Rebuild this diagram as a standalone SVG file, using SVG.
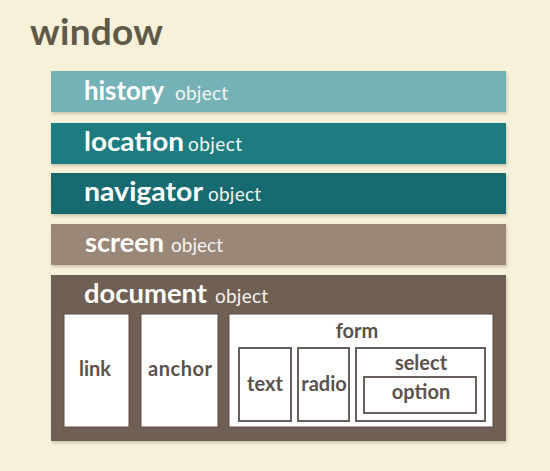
<svg xmlns="http://www.w3.org/2000/svg" width="550" height="471" viewBox="0 0 550 471">
<defs>
<filter id="sh" x="-5%" y="-20%" width="110%" height="150%">
<feDropShadow dx="1" dy="2" stdDeviation="1.5" flood-color="#6b5a40" flood-opacity="0.3"/>
</filter>
</defs>
<style>
.b{font-family:Lato,"Open Sans",sans-serif;font-weight:700;font-size:27px;fill:#ffffff}
.o{font-family:Lato,"Open Sans",sans-serif;font-weight:400;font-size:19px;fill:#f4f4f0}
.t{font-family:Lato,"Open Sans",sans-serif;font-weight:700;font-size:20px;fill:#5c524d;text-anchor:middle}
.wb{fill:#ffffff;stroke:#5a4c44;stroke-width:1}
.ib{fill:#ffffff;stroke:#6a605b;stroke-width:2}
</style>
<rect x="0" y="0" width="550" height="471" fill="#f7f1d9"/>
<text x="30" y="45" font-family="Lato,'Open Sans',sans-serif" font-weight="700" font-size="37" fill="#5f5a48" textLength="133">window</text>

<g id="history">
<rect x="51" y="71" width="455" height="41" fill="#74b2b8" filter="url(#sh)"/>
<text class="b" x="84" y="100" textLength="80" lengthAdjust="spacingAndGlyphs">history</text>
<text class="o" x="175" y="100" textLength="53">object</text>
</g>
<g id="location">
<rect x="51" y="123" width="455" height="41" fill="#1a7b80" filter="url(#sh)"/>
<text class="b" x="84" y="151" textLength="100" lengthAdjust="spacingAndGlyphs">location</text>
<text class="o" x="188" y="151" textLength="54">object</text>
</g>
<g id="navigator">
<rect x="51" y="173" width="455" height="41" fill="#146b70" filter="url(#sh)"/>
<text class="b" x="84" y="201" textLength="119" lengthAdjust="spacingAndGlyphs">navigator</text>
<text class="o" x="208" y="201" textLength="53">object</text>
</g>
<g id="screen">
<rect x="51" y="224" width="455" height="41" fill="#9b8778" filter="url(#sh)"/>
<text class="b" x="85" y="252" textLength="79" lengthAdjust="spacingAndGlyphs">screen</text>
<text class="o" x="171" y="252" textLength="52">object</text>
</g>
<g id="document">
<rect x="51" y="275" width="455" height="166" fill="#6f5e53" filter="url(#sh)"/>
<text class="b" x="84" y="303" textLength="123" lengthAdjust="spacingAndGlyphs">document</text>
<text class="o" x="215" y="303" textLength="53">object</text>
</g>
<g id="link">
<rect class="wb" x="64" y="314" width="65" height="113"/>
<text class="t" x="95" y="376">link</text>
</g>
<g id="anchor">
<rect class="wb" x="141" y="314" width="77" height="113"/>
<text class="t" x="180" y="376" textLength="64">anchor</text>
</g>
<g id="form">
<rect class="wb" x="229" y="314" width="264" height="113"/>
<text class="t" x="357" y="338">form</text>
</g>
<g id="text">
<rect class="ib" x="239" y="348" width="52" height="73"/>
<text class="t" x="265" y="391">text</text>
</g>
<g id="radio">
<rect class="ib" x="298" y="348" width="51" height="73"/>
<text class="t" x="324" y="391">radio</text>
</g>
<g id="select">
<rect class="ib" x="356" y="348" width="129" height="73"/>
<text class="t" x="421" y="370">select</text>
</g>
<g id="option">
<rect class="ib" x="364" y="377" width="112" height="36"/>
<text class="t" x="421" y="399">option</text>
</g>
<g id="connectors"></g>
</svg>
